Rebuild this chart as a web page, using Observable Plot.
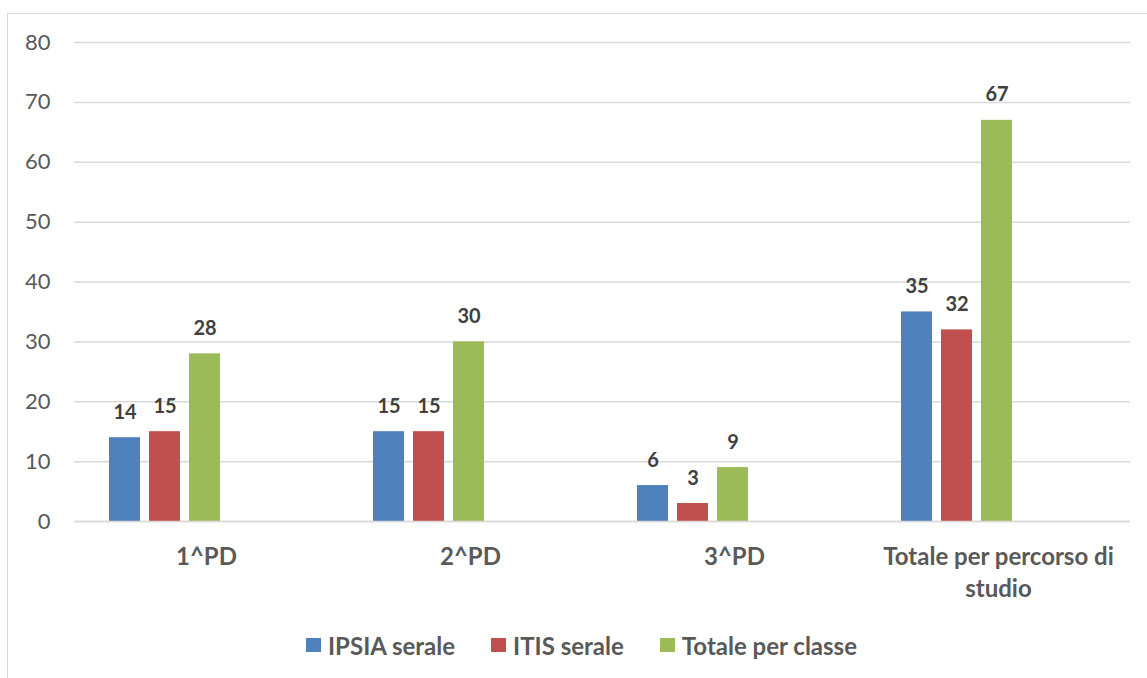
<!DOCTYPE html>
<html>
<head>
<meta charset="utf-8">
<script src="https://cdn.jsdelivr.net/npm/d3@7"></script>
<script src="https://cdn.jsdelivr.net/npm/@observablehq/plot@0.6"></script>
<style>
  html, body { margin: 0; padding: 0; background: #fff; }
  #wrap { position: relative; width: 1147px; height: 678px; overflow: hidden; font-family: Lato, "Open Sans", sans-serif; }
  #frame { position: absolute; left: 7px; top: 13px; width: 1200px; height: 700px; border-left: 1.5px solid #d9d9d9; border-top: 1.5px solid #d9d9d9; z-index: 2; pointer-events: none; }
  #chart { position: absolute; left: 0; top: 0; }
  #legend { position: absolute; left: 306px; top: 631px; height: 28px; display: flex; align-items: center; font-weight: bold; font-size: 24px; color: #595959; }
  #legend .item { display: flex; align-items: center; margin-right: 36px; }
  #legend .sw { width: 15px; height: 14px; margin-right: 7px; }
</style>
</head>
<body>
<div id="wrap">
  <div id="frame"></div>
  <div id="chart"></div>
  <div id="legend"></div>
</div>
<script>
const categories = ["1^PD", "2^PD", "3^PD", "Totale per percorso di studio"];
const categoryLabels = ["1^PD", "2^PD", "3^PD", "Totale per percorso di\nstudio"];
const series = ["IPSIA serale", "ITIS serale", "Totale per classe"];
const colors = ["#4F81BD", "#C0504D", "#9BBB59"];
const ipsia = [14, 15, 6, 35];
const itis = [15, 15, 3, 32];
const totale = [28, 30, 9, 67];
const yTicks = [0, 10, 20, 30, 40, 50, 60, 70, 80];

const valuesBySeries = [ipsia, itis, totale];
const data = [];
categories.forEach((c, i) => {
  series.forEach((s, j) => data.push({category: c, series: s, value: valuesBySeries[j][i]}));
});
const labelOf = new Map(categories.map((c, i) => [c, categoryLabels[i]]));

const plot = Plot.plot({
  width: 1147,
  height: 610,
  marginTop: 42,
  marginBottom: 89,
  marginLeft: 72,
  marginRight: 16,
  style: {background: "transparent", fontFamily: "Lato, 'Open Sans', sans-serif"},
  fx: {domain: categories, padding: 0, label: null},
  x: {domain: series, paddingInner: 0.214, paddingOuter: 1.86, align: 0.231, axis: null},
  y: {domain: [0, 80], axis: null},
  color: {domain: series, range: colors},
  marks: [
    Plot.ruleY(yTicks, {stroke: "#d9d9d9", strokeWidth: 1.5}),
    Plot.barY(data, {fx: "category", x: "series", y: "value", fill: "series"}),
    Plot.ruleY([0], {stroke: "#d9d9d9", strokeWidth: 1.5}),
    Plot.text(data, {fx: "category", x: "series", y: "value", text: d => String(d.value), dy: -19, lineAnchor: "bottom", fontSize: 20, fontWeight: "bold", fill: "#404040"}),
    Plot.axisY(yTicks, {anchor: "left", tickSize: 0, tickPadding: 24, fontSize: 22, color: "#595959", label: null}),
    Plot.axisFx({anchor: "bottom", tickSize: 0, tickPadding: 20, fontSize: 24, fontWeight: "bold", color: "#595959", label: null, lineHeight: 1.35, tickFormat: d => labelOf.get(d)})
  ]
});
document.getElementById("chart").appendChild(plot);

const legend = document.getElementById("legend");
series.forEach((s, i) => {
  const item = document.createElement("div");
  item.className = "item";
  const sw = document.createElement("div");
  sw.className = "sw";
  sw.style.background = colors[i];
  const t = document.createElement("span");
  t.textContent = s;
  item.appendChild(sw);
  item.appendChild(t);
  legend.appendChild(item);
});
</script>
</body>
</html>
